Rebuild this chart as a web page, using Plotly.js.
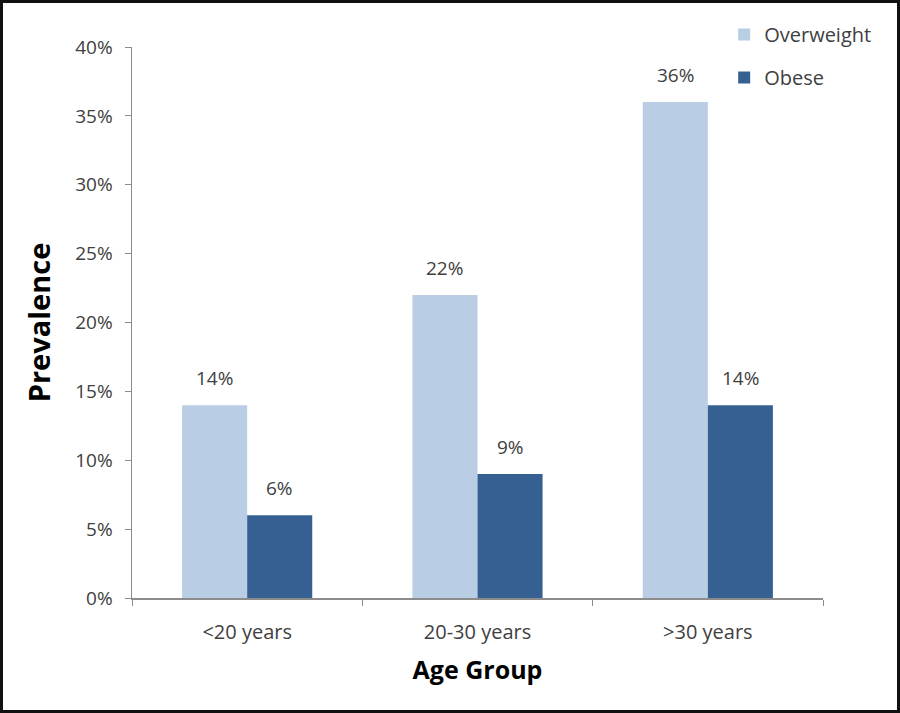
<!DOCTYPE html>
<html><head><meta charset="utf-8">
<script src="https://cdn.plot.ly/plotly-3.0.1.min.js"></script>
<style>
body{margin:0;background:#fff;}
#wrap{position:relative;width:900px;height:713px;}
#chart{width:900px;height:713px;}
#frame{position:absolute;left:0;top:0;width:900px;height:713px;box-sizing:border-box;border:3px solid #111;pointer-events:none;}
</style></head>
<body><div id="wrap"><div id="chart"></div><div id="frame"></div></div>
<script>
const categories = ['<20 years', '20-30 years', '>30 years'];
const overweight = [14, 22, 36];
const obese = [6, 9, 14];
const seriesNames = ['Overweight', 'Obese'];
const yTickVals = [0, 5, 10, 15, 20, 25, 30, 35, 40];
const yTickText = ['0%', '5%', '10%', '15%', '20%', '25%', '30%', '35%', '40%'];

const fontFam = '"Open Sans", Lato, sans-serif';
const colors = ['#B9CDE5', '#366092'];

const traces = [overweight, obese].map((vals, i) => ({
  type: 'bar', x: categories, y: vals, name: seriesNames[i],
  legendgroup: 'g' + i,
  marker: {color: colors[i], line: {width: 0}},
  hoverinfo: 'none'
}));

const annotations = [];
[overweight, obese].forEach((vals, i) => {
  vals.forEach((v, j) => {
    annotations.push({
      x: j + (i === 0 ? -0.1413 : 0.1413), xref: 'x', y: v, yref: 'y',
      text: v + '%', showarrow: false, yanchor: 'bottom', yshift: 12,
      font: {family: fontFam, size: 19, color: '#404040'}
    });
  });
});

const layout = {
  width: 900, height: 713,
  margin: {l: 132, r: 77, t: 47, b: 115},
  paper_bgcolor: '#fff', plot_bgcolor: '#fff',
  barmode: 'group', bargap: 0.435, bargroupgap: 0,
  showlegend: true,
  legend: {x: 0.857, y: 1.058, xanchor: 'left', yanchor: 'top',
    font: {family: fontFam, size: 20, color: '#404040'},
    tracegroupgap: 14, bgcolor: 'rgba(0,0,0,0)', itemwidth: 30},
  xaxis: {
    type: 'category', range: [-0.5, 2.5], fixedrange: true,
    showline: true, linecolor: '#8c8c8c', linewidth: 1.5,
    ticks: 'outside', tickson: 'boundaries', ticklen: 6, tickcolor: '#8c8c8c',
    tickfont: {family: fontFam, size: 20, color: '#404040'},
    ticklabelstandoff: 15,
    showgrid: false, zeroline: false,
    title: {text: 'Age Group', font: {family: fontFam, size: 25, color: '#000', weight: 'bold'}, standoff: 18},
    automargin: false
  },
  yaxis: {
    range: [0, 40], fixedrange: true,
    tickvals: yTickVals, ticktext: yTickText,
    showline: true, linecolor: '#8c8c8c', linewidth: 1.5,
    ticks: 'outside', ticklen: 6, tickcolor: '#8c8c8c',
    tickfont: {family: fontFam, size: 19, color: '#404040'},
    ticklabelstandoff: 8,
    showgrid: false, zeroline: false,
    title: {text: 'Prevalence', font: {family: fontFam, size: 29, color: '#000', weight: 'bold'}, standoff: 16},
    automargin: false
  },
  annotations: annotations
};

Plotly.newPlot('chart', traces, layout, {staticPlot: true, displayModeBar: false});
</script>
</body></html>
